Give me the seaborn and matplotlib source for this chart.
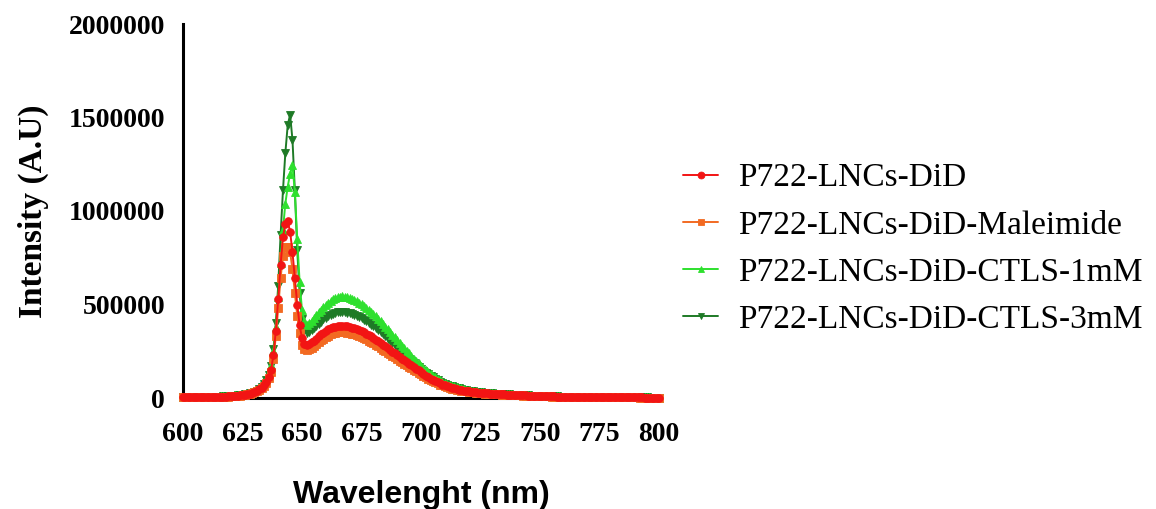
import numpy as np
import pandas as pd
import matplotlib
matplotlib.use("Agg")
import matplotlib.pyplot as plt
import seaborn as sns

# ---------------- data (intensities in thousands of A.U.) ----------------
wavelength = list(range(600, 801))  # nm, 1 nm step

did = [
    3, 3, 3, 3, 4, 4, 4, 4, 5, 5,
    5, 5, 6, 6, 6, 7, 7, 8, 8, 9,
    10, 11, 12, 13, 14, 16, 18, 20, 23, 27,
    32, 38, 46, 56, 70, 88, 112, 150, 230, 360,
    530, 710, 860, 930, 945, 890, 780, 640, 500, 390,
    320, 290, 282, 288, 297, 307, 318, 329, 340, 350,
    360, 367, 373, 378, 382, 385, 387, 387, 386, 384,
    381, 377, 373, 368, 363, 357, 351, 344, 337, 329,
    321, 312, 303, 294, 285, 276, 267, 257, 248, 239,
    229, 220, 211, 202, 193, 184, 175, 166, 157, 148,
    138, 129, 120, 112, 104, 97, 90, 84, 78, 72,
    67, 62, 58, 54, 51, 48, 45, 42, 40, 38,
    36, 34, 32, 31, 29, 28, 27, 26, 25, 24,
    23, 22, 21, 20, 20, 19, 18, 18, 17, 16,
    16, 15, 15, 14, 14, 13, 13, 12, 12, 11,
    11, 10, 10, 10, 9, 9, 9, 8, 8, 8,
    8, 7, 7, 7, 7, 6, 6, 6, 6, 6,
    5, 5, 5, 5, 5, 5, 4, 4, 4, 4,
    4, 4, 4, 4, 3, 3, 3, 3, 3, 3,
    3, 3, 3, 3, 2, 2, 2, 2, 2, 2, 2,
]

did_maleimide = [
    3, 3, 3, 3, 3, 4, 4, 4, 4, 5,
    5, 5, 5, 6, 6, 6, 7, 7, 8, 8,
    9, 10, 11, 12, 13, 15, 17, 19, 22, 25,
    30, 36, 43, 52, 65, 82, 105, 140, 210, 330,
    480, 640, 760, 805, 810, 780, 690, 560, 440, 345,
    285, 262, 256, 261, 269, 279, 289, 299, 309, 318,
    327, 334, 340, 345, 349, 352, 353, 353, 352, 350,
    347, 344, 340, 335, 330, 325, 319, 313, 306, 299,
    292, 284, 276, 268, 259, 251, 243, 234, 226, 217,
    209, 200, 192, 184, 176, 168, 160, 152, 144, 136,
    127, 119, 111, 104, 97, 90, 84, 78, 72, 67,
    62, 58, 54, 50, 47, 44, 42, 39, 37, 35,
    33, 32, 30, 29, 27, 26, 25, 24, 23, 22,
    21, 20, 20, 19, 18, 18, 17, 16, 16, 15,
    15, 14, 14, 13, 13, 12, 12, 11, 11, 11,
    10, 10, 9, 9, 9, 8, 8, 8, 8, 7,
    7, 7, 7, 6, 6, 6, 6, 6, 5, 5,
    5, 5, 5, 5, 5, 4, 4, 4, 4, 4,
    4, 4, 3, 3, 3, 3, 3, 3, 3, 3,
    3, 3, 2, 2, 2, 2, 2, 2, 2, 2, 2,
]

did_ctls_1mm = [
    3, 3, 3, 4, 4, 4, 5, 5, 5, 6,
    6, 6, 7, 7, 8, 8, 9, 9, 10, 11,
    12, 13, 14, 15, 17, 19, 21, 24, 27, 31,
    36, 43, 52, 64, 80, 100, 130, 175, 250, 380,
    540, 720, 900, 1040, 1130, 1200, 1245, 1100, 850, 620,
    470, 410, 392, 400, 413, 428, 443, 458, 472, 485,
    497, 508, 518, 527, 534, 539, 542, 543, 542, 540,
    536, 531, 525, 518, 510, 501, 492, 482, 471, 460,
    448, 436, 423, 410, 396, 382, 368, 353, 339, 324,
    309, 295, 280, 266, 252, 238, 224, 211, 198, 185,
    172, 160, 149, 138, 128, 119, 110, 102, 95, 88,
    82, 76, 71, 66, 62, 58, 54, 51, 48, 45,
    42, 40, 38, 36, 34, 32, 31, 29, 28, 27,
    26, 25, 24, 23, 22, 21, 20, 19, 19, 18,
    17, 17, 16, 15, 15, 14, 14, 13, 13, 12,
    12, 11, 11, 11, 10, 10, 9, 9, 9, 8,
    8, 8, 8, 7, 7, 7, 7, 6, 6, 6,
    6, 6, 5, 5, 5, 5, 5, 5, 4, 4,
    4, 4, 4, 4, 4, 4, 3, 3, 3, 3,
    3, 3, 3, 3, 3, 3, 3, 2, 2, 2, 2,
]

did_ctls_3mm = [
    3, 3, 3, 4, 4, 4, 4, 5, 5, 5,
    6, 6, 6, 7, 7, 8, 8, 9, 9, 10,
    11, 12, 13, 14, 16, 18, 20, 22, 25, 29,
    34, 40, 48, 59, 74, 95, 125, 170, 260, 400,
    600, 870, 1110, 1310, 1460, 1515, 1380, 1110, 790, 560,
    420, 365, 348, 352, 362, 374, 386, 398, 409, 420,
    430, 438, 445, 451, 455, 458, 460, 460, 459, 457,
    454, 450, 445, 440, 434, 427, 419, 411, 402, 393,
    383, 373, 362, 351, 340, 329, 317, 305, 293, 281,
    269, 257, 245, 233, 221, 209, 198, 187, 176, 165,
    155, 145, 136, 127, 118, 110, 102, 95, 88, 82,
    76, 71, 66, 62, 58, 54, 51, 48, 45, 42,
    40, 38, 36, 34, 32, 31, 29, 28, 27, 26,
    25, 24, 23, 22, 21, 20, 19, 19, 18, 17,
    17, 16, 15, 15, 14, 14, 13, 13, 12, 12,
    11, 11, 11, 10, 10, 9, 9, 9, 8, 8,
    8, 8, 7, 7, 7, 7, 6, 6, 6, 6,
    6, 5, 5, 5, 5, 5, 5, 4, 4, 4,
    4, 4, 4, 4, 4, 3, 3, 3, 3, 3,
    3, 3, 3, 3, 3, 3, 2, 2, 2, 2, 2,
]

series_names = [
    "P722-LNCs-DiD",
    "P722-LNCs-DiD-Maleimide",
    "P722-LNCs-DiD-CTLS-1mM",
    "P722-LNCs-DiD-CTLS-3mM",
]
series_values = [did, did_maleimide, did_ctls_1mm, did_ctls_3mm]

x_ticks = [600, 625, 650, 675, 700, 725, 750, 775, 800]
y_ticks = [0, 500000, 1000000, 1500000, 2000000]
y_tick_labels = ["0", "500000", "1000000", "1500000", "2000000"]

# ---------------- styling ----------------
colors = {
    "P722-LNCs-DiD": "#F21414",
    "P722-LNCs-DiD-Maleimide": "#F26A22",
    "P722-LNCs-DiD-CTLS-1mM": "#2EE02E",
    "P722-LNCs-DiD-CTLS-3mM": "#1E7A26",
}
markers = {
    "P722-LNCs-DiD": "o",
    "P722-LNCs-DiD-Maleimide": "s",
    "P722-LNCs-DiD-CTLS-1mM": "^",
    "P722-LNCs-DiD-CTLS-3mM": "v",
}

frames = []
for name, vals in zip(series_names, series_values):
    frames.append(pd.DataFrame({
        "Wavelength": wavelength,
        "Intensity": np.array(vals, dtype=float) * 1000.0,
        "Sample": name,
    }))
df = pd.concat(frames, ignore_index=True)

sns.set_style("white")
plt.rcParams["font.family"] = ["Liberation Serif", "DejaVu Serif"]
plt.rcParams["text.color"] = "black"
plt.rcParams["axes.labelcolor"] = "black"
plt.rcParams["xtick.color"] = "black"
plt.rcParams["ytick.color"] = "black"

fig = plt.figure(figsize=(11.56, 5.09), dpi=100)
ax = fig.add_axes([183 / 1156, 1 - 398 / 509, 476 / 1156, 374 / 509])

draw_order = list(reversed(series_names))  # red drawn last (on top)
for i, name in enumerate(draw_order):
    sub = df[df["Sample"] == name]
    sns.lineplot(
        data=sub, x="Wavelength", y="Intensity", ax=ax,
        color=colors[name], marker=markers[name], markersize=5.5,
        markeredgewidth=0.6, markeredgecolor=colors[name],
        linewidth=1.4, label=name, zorder=3 + i, clip_on=False,
        estimator=None, sort=False,
    )

ax.set_xlim(600, 800)
ax.set_ylim(0, 2000000)
ax.set_xticks(x_ticks)
ax.set_xticklabels([str(t) for t in x_ticks])
ax.set_yticks(y_ticks)
ax.set_yticklabels(y_tick_labels)

for lab in ax.get_xticklabels() + ax.get_yticklabels():
    lab.set_fontfamily("Liberation Serif")
    lab.set_fontweight("bold")
    lab.set_fontsize(20)
    lab.set_color("black")

ax.tick_params(axis="both", direction="out", length=9, width=2.2,
               color="black")
ax.tick_params(axis="y", pad=4)
ax.tick_params(axis="x", pad=8)

for side in ["top", "right"]:
    ax.spines[side].set_visible(False)
for side in ["left", "bottom"]:
    ax.spines[side].set_linewidth(2.2)
    ax.spines[side].set_color("black")

ax.set_xlabel("Wavelenght (nm)", fontfamily="Liberation Sans",
              fontweight="bold", fontsize=23, labelpad=24, color="black")
ax.set_ylabel("Intensity (A.U)", fontfamily="Liberation Serif",
              fontweight="bold", fontsize=24, labelpad=14, color="black")

h, l = ax.get_legend_handles_labels()
lookup = dict(zip(l, h))
leg = ax.legend(
    [lookup[n] for n in series_names], series_names,
    loc="center left", bbox_to_anchor=(683 / 1156, 1 - 249 / 509),
    bbox_transform=fig.transFigure, frameon=False,
    prop={"family": "Liberation Serif", "size": 24},
    handlelength=1.05, handletextpad=0.6, labelspacing=0.5,
    borderaxespad=0, borderpad=0, markerscale=0.9,
)
for t in leg.get_texts():
    t.set_color("black")

fig.savefig("out.png", dpi=100, facecolor="white")
